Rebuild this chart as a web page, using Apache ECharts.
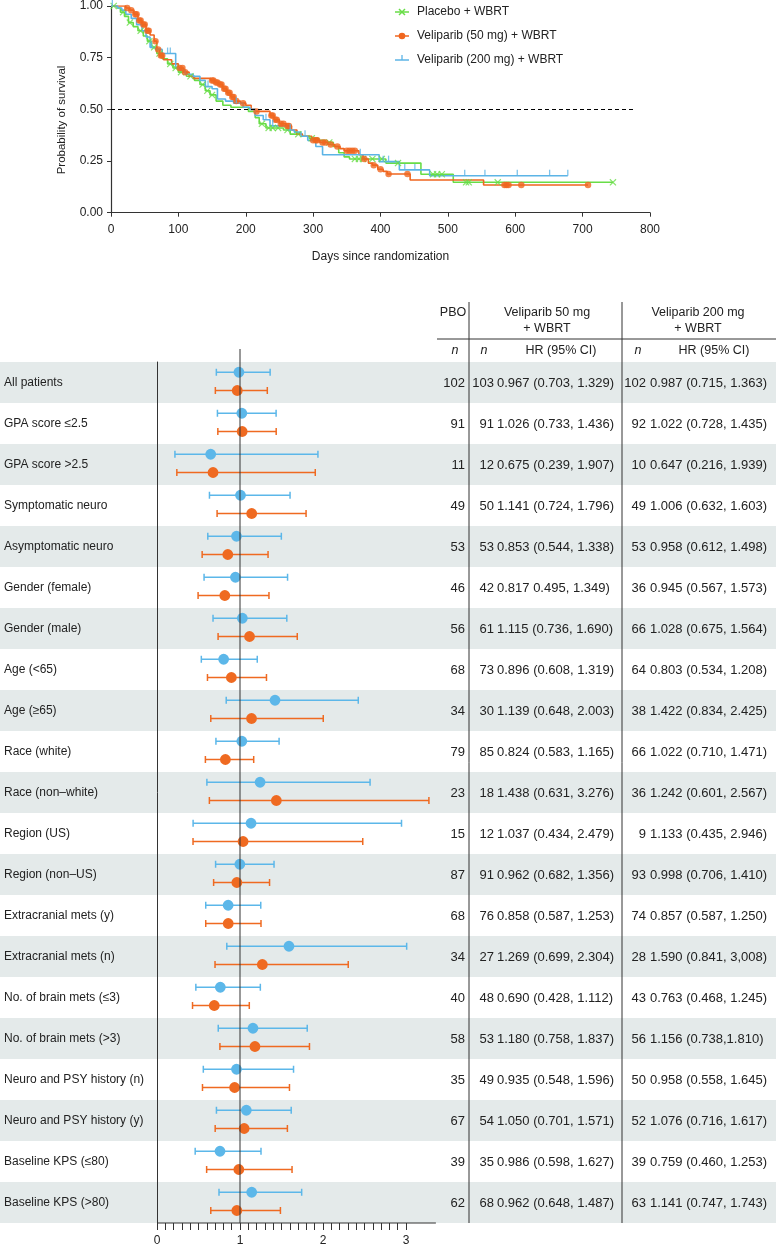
<!DOCTYPE html>
<html><head><meta charset="utf-8">
<script src="https://cdn.jsdelivr.net/npm/echarts@6/dist/echarts.min.js"></script>
<style>html,body{margin:0;padding:0;background:#fff}#c{width:776px;height:1248px}</style>
</head><body><div id="c"></div>
<script>
// ---------- Kaplan-Meier data (day, survival) ----------
const placeboSteps = [[0,1],[9,0.99],[14,0.97],[20,0.95],[26,0.92],[33,0.90],[40,0.88],[48,0.855],[54,0.83],[60,0.80],[68,0.77],[76,0.745],[84,0.72],[92,0.70],[100,0.68],[112,0.66],[124,0.64],[132,0.62],[140,0.59],[147,0.57],[156,0.54],[166,0.52],[178,0.51],[204,0.49],[214,0.46],[220,0.43],[230,0.41],[256,0.40],[266,0.38],[284,0.37],[294,0.36],[308,0.35],[318,0.34],[330,0.32],[338,0.29],[346,0.27],[354,0.26],[408,0.24],[460,0.186],[508,0.147],[745,0.147]];
const placeboCensor = [[4,1],[18,0.97],[28,0.92],[44,0.88],[57,0.83],[64,0.80],[72,0.77],[88,0.72],[96,0.70],[104,0.68],[118,0.66],[136,0.62],[143,0.59],[150,0.57],[224,0.43],[234,0.41],[240,0.41],[248,0.41],[262,0.40],[278,0.38],[298,0.36],[324,0.34],[362,0.26],[368,0.26],[374,0.26],[388,0.26],[402,0.26],[426,0.24],[478,0.186],[484,0.186],[491,0.186],[527,0.147],[531,0.147],[574,0.147],[745,0.147]];
const v50Steps = [[0,1],[22,0.99],[28,0.98],[34,0.96],[40,0.93],[46,0.91],[52,0.88],[58,0.86],[64,0.83],[68,0.79],[72,0.76],[78,0.74],[90,0.72],[100,0.70],[108,0.68],[116,0.66],[122,0.65],[148,0.64],[154,0.63],[160,0.62],[166,0.60],[172,0.58],[178,0.56],[184,0.54],[192,0.53],[200,0.52],[208,0.50],[214,0.49],[236,0.47],[242,0.45],[250,0.43],[260,0.42],[268,0.40],[276,0.38],[284,0.37],[298,0.35],[310,0.34],[322,0.33],[332,0.32],[340,0.31],[346,0.30],[368,0.28],[374,0.26],[382,0.24],[388,0.23],[396,0.21],[404,0.20],[410,0.187],[444,0.158],[553,0.134],[708,0.134]];
const v50Censor = [[24,0.99],[30,0.98],[36,0.96],[38,0.96],[42,0.93],[44,0.93],[48,0.91],[50,0.91],[54,0.88],[56,0.88],[66,0.83],[70,0.79],[74,0.76],[76,0.76],[102,0.70],[106,0.70],[110,0.68],[150,0.64],[152,0.64],[156,0.63],[158,0.63],[162,0.62],[164,0.62],[168,0.60],[170,0.60],[174,0.58],[176,0.58],[180,0.56],[182,0.56],[186,0.54],[196,0.53],[216,0.49],[238,0.47],[240,0.47],[244,0.45],[246,0.45],[252,0.43],[256,0.43],[262,0.42],[264,0.42],[300,0.35],[304,0.35],[306,0.35],[314,0.34],[318,0.34],[326,0.33],[336,0.32],[350,0.30],[354,0.30],[358,0.30],[362,0.30],[376,0.26],[390,0.23],[400,0.21],[412,0.187],[440,0.187],[584,0.134],[587,0.134],[590,0.134],[609,0.134],[708,0.134]];
const v200Steps = [[0,1],[10,0.99],[16,0.98],[22,0.96],[30,0.94],[38,0.91],[46,0.88],[52,0.85],[58,0.80],[66,0.79],[76,0.77],[96,0.70],[102,0.69],[110,0.67],[122,0.66],[132,0.64],[140,0.61],[150,0.60],[158,0.55],[170,0.54],[182,0.53],[196,0.51],[206,0.50],[214,0.47],[226,0.45],[236,0.42],[262,0.40],[272,0.39],[282,0.37],[292,0.35],[304,0.32],[314,0.28],[398,0.247],[428,0.207],[473,0.179],[678,0.179]];
const v200Censor = [[2,1],[60,0.80],[84,0.77],[88,0.77],[144,0.61],[186,0.53],[230,0.45],[240,0.42],[266,0.40],[288,0.37],[370,0.28],[404,0.247],[412,0.247],[436,0.207],[451,0.207],[525,0.179],[555,0.179],[603,0.179],[651,0.179],[678,0.179]];
const medianLine = [[0,0.5],[777,0.5]];
const kmSeriesNames = ['Placebo + WBRT','Veliparib (50 mg) + WBRT','Veliparib (200 mg) + WBRT'];

// ---------- Forest / table data ----------
const subgroups = ['All patients','GPA score ≤2.5','GPA score >2.5','Symptomatic neuro','Asymptomatic neuro','Gender (female)','Gender (male)','Age (<65)','Age (≥65)','Race (white)','Race (non–white)','Region (US)','Region (non–US)','Extracranial mets (y)','Extracranial mets (n)','No. of brain mets (≤3)','No. of brain mets (>3)','Neuro and PSY history (n)','Neuro and PSY history (y)','Baseline KPS (≤80)','Baseline KPS (>80)'];
const nPBO = [102,91,11,49,53,46,56,68,34,79,23,15,87,68,34,40,58,35,67,39,62];
const n50 = [103,91,12,50,53,42,61,73,30,85,18,12,91,76,27,48,53,49,54,35,68];
const hr50 = [0.967,1.026,0.675,1.141,0.853,0.817,1.115,0.896,1.139,0.824,1.438,1.037,0.962,0.858,1.269,0.690,1.180,0.935,1.050,0.986,0.962];
const lo50 = [0.703,0.733,0.239,0.724,0.544,0.495,0.736,0.608,0.648,0.583,0.631,0.434,0.682,0.587,0.699,0.428,0.758,0.548,0.701,0.598,0.648];
const hi50 = [1.329,1.436,1.907,1.796,1.338,1.349,1.690,1.319,2.003,1.165,3.276,2.479,1.356,1.253,2.304,1.112,1.837,1.596,1.571,1.627,1.487];
const ci50Text = ['0.967 (0.703, 1.329)','1.026 (0.733, 1.436)','0.675 (0.239, 1.907)','1.141 (0.724, 1.796)','0.853 (0.544, 1.338)','0.817 0.495, 1.349)','1.115 (0.736, 1.690)','0.896 (0.608, 1.319)','1.139 (0.648, 2.003)','0.824 (0.583, 1.165)','1.438 (0.631, 3.276)','1.037 (0.434, 2.479)','0.962 (0.682, 1.356)','0.858 (0.587, 1.253)','1.269 (0.699, 2.304)','0.690 (0.428, 1.112)','1.180 (0.758, 1.837)','0.935 (0.548, 1.596)','1.050 (0.701, 1.571)','0.986 (0.598, 1.627)','0.962 (0.648, 1.487)'];
const n200 = [102,92,10,49,53,36,66,64,38,66,36,9,93,74,28,43,56,50,52,39,63];
const hr200 = [0.987,1.022,0.647,1.006,0.958,0.945,1.028,0.803,1.422,1.022,1.242,1.133,0.998,0.857,1.590,0.763,1.156,0.958,1.076,0.759,1.141];
const lo200 = [0.715,0.728,0.216,0.632,0.612,0.567,0.675,0.534,0.834,0.710,0.601,0.435,0.706,0.587,0.841,0.468,0.738,0.558,0.716,0.460,0.747];
const hi200 = [1.363,1.435,1.939,1.603,1.498,1.573,1.564,1.208,2.425,1.471,2.567,2.946,1.410,1.250,3.008,1.245,1.810,1.645,1.617,1.253,1.743];
const ci200Text = ['0.987 (0.715, 1.363)','1.022 (0.728, 1.435)','0.647 (0.216, 1.939)','1.006 (0.632, 1.603)','0.958 (0.612, 1.498)','0.945 (0.567, 1.573)','1.028 (0.675, 1.564)','0.803 (0.534, 1.208)','1.422 (0.834, 2.425)','1.022 (0.710, 1.471)','1.242 (0.601, 2.567)','1.133 (0.435, 2.946)','0.998 (0.706, 1.410)','0.857 (0.587, 1.250)','1.590 (0.841, 3,008)','0.763 (0.468, 1.245)','1.156 (0.738,1.810)','0.958 (0.558, 1.645)','1.076 (0.716, 1.617)','0.759 (0.460, 1.253)','1.141 (0.747, 1.743)'];
const forestAxisEnd = 3.36;

// ---------- styling ----------
const FONT = 'Liberation Sans, Arial, Helvetica, sans-serif';
const GREEN = '#68dd47', ORANGE = '#f0661f', BLUE = '#5cb4e6';
const F_BLUE = '#5cb7e9', F_ORANGE = '#ef6a21';
const BAND = '#e4eaea', AX = '#333', TXT = '#222';
const TFS = 13;
const xPath = 'path://M0,1.2L1.2,0L5,3.8L8.8,0L10,1.2L6.2,5L10,8.8L8.8,10L5,6.2L1.2,10L0,8.8L3.8,5Z';
const tickPath = 'path://M0,0h2v10h-2z';

const chart = echarts.init(document.getElementById('c'), null, {renderer:'canvas'});

function bandItem(params, api){
  const idx = api.value(1);
  const c = api.coord([0, idx]);
  const h = api.size([0, 1])[1];
  return {type:'rect', shape:{x:0, y:c[1]-h/2, width:api.getWidth(), height:h}, style:{fill:BAND}};
}
function errItem(color, off){
  return function(params, api){
    const row = api.value(1);
    const h = api.size([0,1])[1];
    const yc = api.coord([0,row])[1] + off*h;
    const xm = api.coord([api.value(0),row])[0];
    const xl = api.coord([api.value(2),row])[0];
    const xh = api.coord([api.value(3),row])[0];
    const st = {stroke:color, lineWidth:1.5};
    return {type:'group', children:[
      {type:'line', shape:{x1:xl,y1:yc,x2:xh,y2:yc}, style:st},
      {type:'line', shape:{x1:xl,y1:yc-3.5,x2:xl,y2:yc+3.5}, style:st},
      {type:'line', shape:{x1:xh,y1:yc-3.5,x2:xh,y2:yc+3.5}, style:st},
      {type:'circle', shape:{cx:xm,cy:yc,r:5.4}, style:{fill:color}}
    ]};
  };
}
function tableItem(params, api){
  const i = api.value(1);
  const yc = api.coord([0,i])[1] + 1;
  const mk = (x, text, align) => ({type:'text', x:x, y:yc, style:{text:text, fill:TXT, fontSize:TFS, fontFamily:FONT, align:align, verticalAlign:'middle'}});
  return {type:'group', children:[
    mk(465, String(nPBO[i]), 'right'),
    mk(494, String(n50[i]), 'right'),
    mk(497, ci50Text[i], 'left'),
    mk(646, String(n200[i]), 'right'),
    mk(650, ci200Text[i], 'left')
  ]};
}
function refItem(params, api){
  const cs = params.coordSys;
  const x = api.coord([api.value(0), 0])[0];
  const yb = cs.y + cs.height;
  return {type:'group', children:[
    {type:'line', shape:{x1:x,y1:cs.y-13,x2:x,y2:yb}, style:{stroke:AX, lineWidth:1}},
    {type:'line', shape:{x1:api.coord([0,0])[0],y1:yb,x2:api.coord([forestAxisEnd,0])[0],y2:yb}, style:{stroke:AX, lineWidth:1.2}}
  ]};
}

const hdr = (x, y, text) => ({type:'text', x:x, y:y, style:{text:text, fill:TXT, fontSize:12.5, fontFamily:FONT, align:'center', verticalAlign:'middle'}});
const hdrI = (x, y, text) => ({type:'text', x:x, y:y, style:{text:text, fill:TXT, fontSize:12.5, fontFamily:FONT, fontStyle:'italic', align:'center', verticalAlign:'middle'}});

const option = {
  animation:false,
  textStyle:{fontFamily:FONT},
  grid:[
    {left:111, top:6, width:539, height:206.7},
    {left:157, top:362, width:249, height:861}
  ],
  xAxis:[
    {type:'value', gridIndex:0, min:0, max:800, interval:100,
     name:'Days since randomization', nameLocation:'middle', nameGap:38,
     nameTextStyle:{fontSize:12, color:TXT},
     axisLine:{lineStyle:{color:AX, width:1.2}}, axisTick:{length:4, lineStyle:{color:AX}},
     axisLabel:{fontSize:12, color:TXT, margin:11}, splitLine:{show:false}},
    {type:'value', gridIndex:1, min:0, max:3, interval:1,
     axisLine:{show:false, onZero:false}, axisTick:{show:true, length:7, lineStyle:{color:AX}},
     minorTick:{show:true, splitNumber:10, length:7, lineStyle:{color:AX}},
     axisLabel:{fontSize:12, color:TXT, margin:12}, splitLine:{show:false}}
  ],
  yAxis:[
    {type:'value', gridIndex:0, min:0, max:1, interval:0.25,
     axisLine:{show:true, lineStyle:{color:AX, width:1.2}}, axisTick:{show:true, length:4, lineStyle:{color:AX}},
     axisLabel:{fontSize:12, color:TXT, margin:8, formatter:v=>v.toFixed(2)}, splitLine:{show:false}},
    {type:'category', gridIndex:1, inverse:true, data:subgroups,
     axisLine:{show:true, lineStyle:{color:AX, width:1}}, axisTick:{show:false},
     axisLabel:{fontSize:12, color:TXT, align:'left', margin:153}, splitLine:{show:false}}
  ],
  graphic:[
    {type:'text', x:62, y:120, rotation:Math.PI/2, style:{text:'Probability of survival', fill:TXT, fontSize:11.5, fontFamily:FONT, align:'center', verticalAlign:'middle'}},
    // legend
    {type:'line', shape:{x1:395,y1:12,x2:409,y2:12}, style:{stroke:GREEN, lineWidth:1.5}},
    {type:'line', shape:{x1:399,y1:9,x2:405,y2:15}, style:{stroke:GREEN, lineWidth:1.5}},
    {type:'line', shape:{x1:399,y1:15,x2:405,y2:9}, style:{stroke:GREEN, lineWidth:1.5}},
    {type:'text', x:417, y:12, style:{text:kmSeriesNames[0], fill:TXT, fontSize:12, fontFamily:FONT, verticalAlign:'middle'}},
    {type:'line', shape:{x1:395,y1:36,x2:409,y2:36}, style:{stroke:ORANGE, lineWidth:1.5}},
    {type:'circle', shape:{cx:402,cy:36,r:3.3}, style:{fill:ORANGE}},
    {type:'text', x:417, y:36, style:{text:kmSeriesNames[1], fill:TXT, fontSize:12, fontFamily:FONT, verticalAlign:'middle'}},
    {type:'line', shape:{x1:395,y1:60,x2:409,y2:60}, style:{stroke:BLUE, lineWidth:1.5}},
    {type:'line', shape:{x1:402,y1:55,x2:402,y2:60}, style:{stroke:BLUE, lineWidth:1.3}},
    {type:'text', x:417, y:60, style:{text:kmSeriesNames[2], fill:TXT, fontSize:12, fontFamily:FONT, verticalAlign:'middle'}},
    // table header
    hdr(453, 313, 'PBO'),
    hdr(547, 313, 'Veliparib 50 mg'),
    hdr(547, 329, '+ WBRT'),
    hdr(698, 313, 'Veliparib 200 mg'),
    hdr(698, 329, '+ WBRT'),
    hdrI(455, 351, 'n'), hdrI(484, 351, 'n'), hdr(561, 351, 'HR (95% CI)'),
    hdrI(638, 351, 'n'), hdr(714, 351, 'HR (95% CI)'),
    {type:'line', z:10, shape:{x1:437,y1:339,x2:776,y2:339}, style:{stroke:AX, lineWidth:1}},
    {type:'line', z:10, shape:{x1:469,y1:302,x2:469,y2:1223}, style:{stroke:AX, lineWidth:1}},
    {type:'line', z:10, shape:{x1:622,y1:302,x2:622,y2:1223}, style:{stroke:AX, lineWidth:1}}
  ],
  series:[
    {type:'line', name:kmSeriesNames[0], xAxisIndex:0, yAxisIndex:0, step:'end', showSymbol:false, data:placeboSteps,
     lineStyle:{color:GREEN, width:1.6}, itemStyle:{color:GREEN}, z:3,
     markLine:{silent:true, symbol:['none','none'], label:{show:false}, lineStyle:{color:'#000', type:[4,3], width:1.1},
       data:[[{coord:medianLine[0]},{coord:medianLine[1]}]]}},
    {type:'line', name:kmSeriesNames[1], xAxisIndex:0, yAxisIndex:0, step:'end', showSymbol:false, data:v50Steps,
     lineStyle:{color:ORANGE, width:1.6}, itemStyle:{color:ORANGE}, z:3},
    {type:'line', name:kmSeriesNames[2], xAxisIndex:0, yAxisIndex:0, step:'end', showSymbol:false, data:v200Steps,
     lineStyle:{color:BLUE, width:1.6}, itemStyle:{color:BLUE}, z:3},
    {type:'scatter', xAxisIndex:0, yAxisIndex:0, data:placeboCensor, symbol:xPath, symbolSize:7, itemStyle:{color:GREEN}, z:4},
    {type:'scatter', xAxisIndex:0, yAxisIndex:0, data:v50Censor, symbol:'circle', symbolSize:6.5, itemStyle:{color:ORANGE}, z:4},
    {type:'scatter', xAxisIndex:0, yAxisIndex:0, data:v200Censor, symbol:tickPath, symbolSize:[1.3,6], symbolOffset:[0,-3], itemStyle:{color:BLUE}, z:4},
    // forest
    {type:'custom', xAxisIndex:1, yAxisIndex:1, z:-5, silent:true, renderItem:bandItem, encode:{x:0,y:1},
     data:subgroups.map((s,i)=>[0,i]).filter(d=>d[1]%2===0)},
    {type:'custom', xAxisIndex:1, yAxisIndex:1, z:6, silent:true, renderItem:refItem, encode:{x:0,y:1}, data:[[1,0]]},
    {type:'custom', xAxisIndex:1, yAxisIndex:1, z:5, silent:true, renderItem:errItem(F_BLUE,-0.25), encode:{x:[0,2,3],y:1},
     data:subgroups.map((s,i)=>[hr200[i], i, lo200[i], hi200[i]])},
    {type:'custom', xAxisIndex:1, yAxisIndex:1, z:5, silent:true, renderItem:errItem(F_ORANGE,0.195), encode:{x:[0,2,3],y:1},
     data:subgroups.map((s,i)=>[hr50[i], i, lo50[i], hi50[i]])},
    {type:'custom', xAxisIndex:1, yAxisIndex:1, z:5, silent:true, renderItem:tableItem, encode:{x:0,y:1},
     data:subgroups.map((s,i)=>[0,i])}
  ]
};
chart.setOption(option);
</script></body></html>
